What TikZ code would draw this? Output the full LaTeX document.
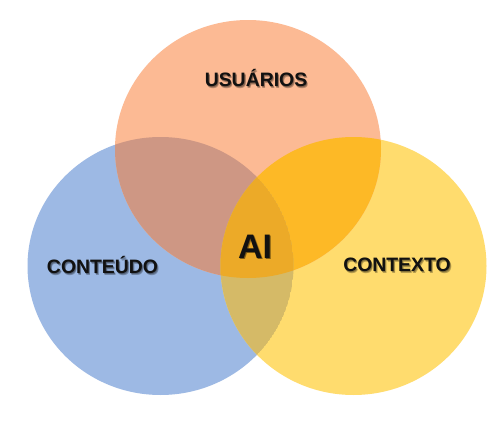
\documentclass[tikz,border=0pt]{standalone}
\usepackage{fontspec}
\setmainfont{Liberation Sans}
\definecolor{cO}{HTML}{FCBA94}
\definecolor{cB}{HTML}{9DB9E4}
\definecolor{cY}{HTML}{FFDC6E}
\definecolor{cOB}{HTML}{CE9784}
\definecolor{cOY}{HTML}{FDB926}
\definecolor{cBY}{HTML}{D5BA67}
\definecolor{cOBY}{HTML}{ECAA28}
\definecolor{txt}{HTML}{111111}
\tikzset{
  lab/.style={font=\fontsize{19.4}{22}\selectfont\bfseries, text=txt, inner sep=0pt},
  big/.style={font=\fontsize{34}{38}\selectfont\bfseries, text=txt, inner sep=0pt}
}
\newcommand{\pO}{(248,149) ellipse [x radius=133, y radius=129]}
\newcommand{\pB}{(160.5,266) ellipse [x radius=133, y radius=129]}
\newcommand{\pY}{(353.5,266) ellipse [x radius=133, y radius=129]}
% text with a soft drop shadow, all in one node
\newcommand{\shtext}[1]{%
  \rlap{\kern1.4pt\raisebox{-1.6pt}{\pgfsetfillopacity{0.28}\textcolor{black}{#1}\pgfsetfillopacity{1}}}%
  \rlap{\kern0.8pt\raisebox{-1.0pt}{\pgfsetfillopacity{0.28}\textcolor{black}{#1}\pgfsetfillopacity{1}}}%
  #1}
\begin{document}
\begin{tikzpicture}[x=1pt,y=-1pt]
\useasboundingbox (0,0) rectangle (504,423);
\fill[white] (0,0) rectangle (504,423);
% single circles
\fill[cB] \pB;
\fill[cY] \pY;
\fill[cO] \pO;
% pairwise overlaps
\begin{scope}
  \clip \pO;
  \fill[cOB] \pB;
  \fill[cOY] \pY;
\end{scope}
\begin{scope}
  \clip \pB;
  \begin{scope}
    \clip \pY;
    \fill[cBY] \pB;
    \clip \pO;
    \fill[cOBY] \pB;
  \end{scope}
\end{scope}
% labels
\node[lab] (usu)  at (256,79)    {\shtext{USUÁRIOS}};
\node[lab] (cont) at (102.5,266) {\shtext{CONTEÚDO}};
\node[lab] (ctx)  at (397,266)   {\shtext{CONTEXTO}};
\node[big] (ai)   at (255,247.5) {\shtext{AI}};
\end{tikzpicture}
\end{document}
